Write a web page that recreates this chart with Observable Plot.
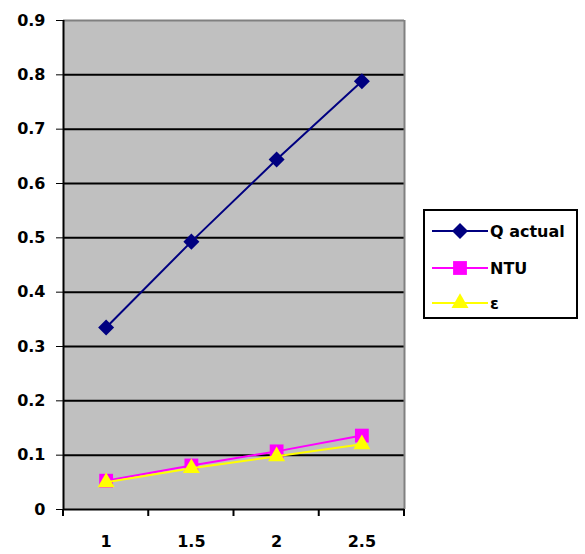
<!DOCTYPE html>
<html>
<head>
<meta charset="utf-8">
<script src="https://cdn.jsdelivr.net/npm/d3@7"></script>
<script src="https://cdn.jsdelivr.net/npm/@observablehq/plot@0.6"></script>
<style>
  html, body { margin: 0; padding: 0; background: #fff; }
  #wrap { position: relative; width: 585px; height: 554px; font-family: "DejaVu Sans", sans-serif; }
  #legend { position: absolute; left: 423px; top: 209px; width: 151px; height: 106px; border: 2px solid #000; background: #fff; }
  .item { position: absolute; left: 0; height: 24px; display: flex; align-items: center; font-weight: bold; font-size: 16px; color: #000; }
  .item svg { margin-left: 7px; margin-right: 2px; }
</style>
</head>
<body>
<div id="wrap"></div>
<script>
const xs = [1, 1.5, 2, 2.5];
const xLabels = ["1", "1.5", "2", "2.5"];
const qActual = [0.335, 0.493, 0.644, 0.788];
const ntu = [0.053, 0.081, 0.107, 0.136];
const eps = [0.050, 0.076, 0.098, 0.120];
const yTicks = [0, 0.1, 0.2, 0.3, 0.4, 0.5, 0.6, 0.7, 0.8, 0.9];
const yLabels = ["0", "0.1", "0.2", "0.3", "0.4", "0.5", "0.6", "0.7", "0.8", "0.9"];
const gridY = [0.1, 0.2, 0.3, 0.4, 0.5, 0.6, 0.7, 0.8];
const xBounds = [0.75, 1.25, 1.75, 2.25, 2.75];

const series = [
  {name: "Q actual", values: qActual, color: "#000080", symbol: "square", rotate: 45, r: 6.4},
  {name: "NTU", values: ntu, color: "#FF00FF", symbol: "square", rotate: 0, r: 7.8},
  {name: "ε", values: eps, color: "#FFFF00", symbol: "triangle", rotate: 0, r: 6.3}
];
const rows = series.flatMap(s => s.values.map((v, i) => ({x: xs[i], y: v, name: s.name})));

const marks = [
  Plot.frame({fill: "#C0C0C0", stroke: null}),
  Plot.ruleY(gridY, {stroke: "#000", strokeWidth: 2}),
  Plot.ruleY([0.9], {stroke: "#808080", strokeWidth: 2}),
  Plot.ruleX([2.75], {stroke: "#808080", strokeWidth: 2}),
  Plot.axisY({ticks: yTicks, tickFormat: (d, i) => yLabels[i], tickSize: 7, tickPadding: 11,
    fontSize: 16, fontWeight: "bold", fill: "#000", label: null}),
  Plot.axisX({ticks: xs, tickFormat: (d, i) => xLabels[i], tickSize: 0, tickPadding: 26,
    fontSize: 16, fontWeight: "bold", fill: "#000", label: null}),
  Plot.ruleY([0], {stroke: "#000", strokeWidth: 2}),
  Plot.ruleX([0.75], {stroke: "#000", strokeWidth: 2})
];
for (const s of series) {
  const data = rows.filter(d => d.name === s.name);
  marks.push(Plot.line(data, {x: "x", y: "y", stroke: s.color, strokeWidth: 2}));
  marks.push(Plot.dot(data, {x: "x", y: "y", symbol: () => s.symbol, rotate: s.rotate, fill: s.color, stroke: "none", r: s.r}));
}

const chart = Plot.plot({
  width: 585,
  height: 554,
  marginLeft: 63,
  marginRight: 181,
  marginTop: 20,
  marginBottom: 45,
  style: {fontFamily: "DejaVu Sans, sans-serif", background: "#fff", color: "#000"},
  x: {domain: [0.75, 2.75], axis: null},
  y: {domain: [0, 0.9], axis: null},
  symbol: {type: "identity"},
  marks
});
document.getElementById("wrap").appendChild(chart);

// Bottom x-axis tick marks at category boundaries, extending below the axis
const svg = d3.select(chart);
const xScale = chart.scale("x");
const yScale = chart.scale("y");
const y0 = yScale.apply(0);
svg.append("g").selectAll("line").data(xBounds).join("line")
  .attr("x1", d => xScale.apply(d)).attr("x2", d => xScale.apply(d))
  .attr("y1", y0).attr("y2", y0 + 7).attr("stroke", "#000").attr("stroke-width", 2);

// Legend
const legend = document.createElement("div");
legend.id = "legend";
const tops = [8, 45, 80];
series.forEach((s, i) => {
  const item = document.createElement("div");
  item.className = "item";
  item.style.top = tops[i] + "px";
  const sym = d3.symbol().type(s.symbol === "square" ? d3.symbolSquare : d3.symbolTriangle)
    .size(Math.PI * s.r * s.r)();
  item.innerHTML = `<svg width="56" height="24"><line x1="0" x2="56" y1="12" y2="12" stroke="${s.color}" stroke-width="2"/><path d="${sym}" transform="translate(28,12) rotate(${s.rotate})" fill="${s.color}"/></svg><span>${s.name}</span>`;
  legend.appendChild(item);
});
document.getElementById("wrap").appendChild(legend);
</script>
</body>
</html>
